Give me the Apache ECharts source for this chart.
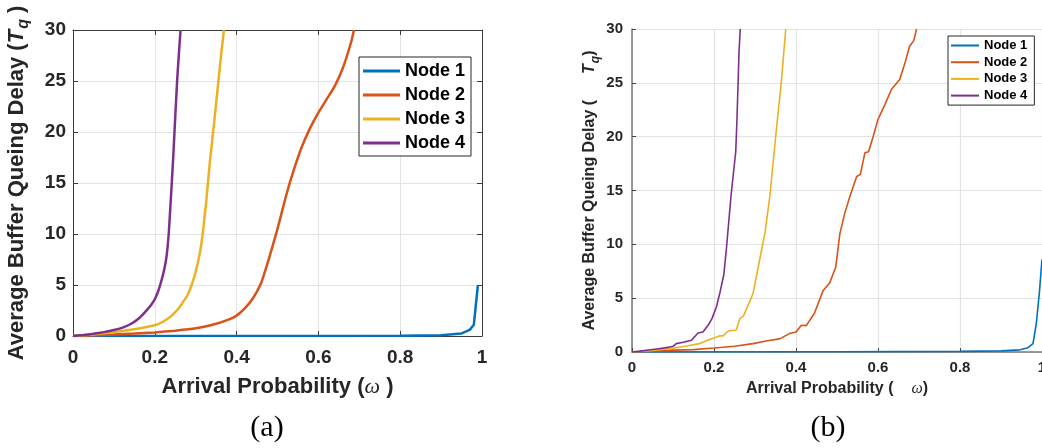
<!DOCTYPE html>
<html>
<head>
<meta charset="utf-8">
<script src="https://cdn.jsdelivr.net/npm/echarts@6/dist/echarts.min.js"></script>
<style>
html,body{margin:0;padding:0;background:#fff;}
#chart{width:1042px;height:448px;}
</style>
</head>
<body>
<div id="chart"></div>
<script>
// ---- data ----
const nodeNames = ['Node 1', 'Node 2', 'Node 3', 'Node 4'];
const xTicks = [0, 0.2, 0.4, 0.6, 0.8, 1];
const yTicks = [0, 5, 10, 15, 20, 25, 30];

// (a) analytical curves: [arrival probability, delay]
const a1 = [[0,0],[0.5,0.01],[0.8,0.03],[0.9,0.08],[0.95,0.25],[0.97,0.6],[0.98,1.1],[0.99,5.0]];
const a2 = [[0,0],[0.05,0.07],[0.1,0.15],[0.15,0.24],[0.2,0.35],[0.25,0.52],[0.3,0.75],[0.35,1.2],[0.38,1.6],[0.4,2.0],[0.42,2.7],[0.44,3.7],[0.46,5.2],[0.48,7.7],[0.5,10.5],[0.52,13.6],[0.54,16.3],[0.56,18.6],[0.58,20.4],[0.6,21.9],[0.62,23.2],[0.64,24.5],[0.66,26.3],[0.68,28.8],[0.687,30]];
const a3 = [[0,0],[0.05,0.15],[0.1,0.38],[0.15,0.66],[0.2,1.05],[0.22,1.4],[0.24,1.95],[0.26,2.8],[0.27,3.4],[0.28,4.0],[0.29,5.0],[0.3,6.3],[0.31,8.1],[0.318,10.3],[0.326,13.3],[0.335,17.2],[0.344,20.5],[0.355,24.8],[0.362,27.5],[0.369,30]];
const a4 = [[0,0],[0.025,0.1],[0.05,0.22],[0.075,0.38],[0.1,0.58],[0.12,0.8],[0.14,1.15],[0.16,1.7],[0.175,2.3],[0.19,3.0],[0.2,3.6],[0.21,4.6],[0.22,6.0],[0.228,7.6],[0.234,10],[0.24,14],[0.245,17.5],[0.25,21.5],[0.255,25.3],[0.26,28.3],[0.263,30]];

// (b) simulated curves
const b1 = [[0,0],[0.5,0.02],[0.8,0.06],[0.9,0.1],[0.946,0.2],[0.966,0.4],[0.978,0.78],[0.986,2.6],[0.994,5.7],[1.0,8.6]];
const b2 = [[0,0],[0.05,0.08],[0.1,0.17],[0.15,0.22],[0.2,0.37],[0.25,0.53],[0.295,0.78],[0.33,1.05],[0.36,1.22],[0.384,1.71],[0.4,1.86],[0.413,2.48],[0.425,2.45],[0.445,3.6],[0.466,5.7],[0.482,6.4],[0.497,7.9],[0.507,11.0],[0.519,12.9],[0.531,14.4],[0.548,16.3],[0.557,16.5],[0.568,18.5],[0.577,18.6],[0.588,20.0],[0.6,21.6],[0.617,23.0],[0.633,24.4],[0.653,25.3],[0.667,27],[0.677,28.4],[0.687,28.9],[0.694,30]];
const b3 = [[0,0],[0.05,0.15],[0.1,0.35],[0.133,0.56],[0.165,0.78],[0.185,1.1],[0.202,1.33],[0.214,1.5],[0.222,1.5],[0.234,1.93],[0.242,2.0],[0.254,2.02],[0.263,3.1],[0.272,3.35],[0.295,5.4],[0.311,8.5],[0.324,11],[0.336,14.4],[0.352,20.6],[0.364,25],[0.375,30]];
const b4 = [[0,0],[0.02,0.08],[0.04,0.18],[0.06,0.28],[0.08,0.38],[0.092,0.47],[0.1,0.52],[0.108,0.78],[0.125,0.9],[0.145,1.09],[0.161,1.77],[0.173,1.85],[0.186,2.5],[0.195,3.1],[0.206,4.2],[0.215,5.6],[0.224,7.2],[0.23,9.5],[0.242,14.7],[0.253,18.6],[0.256,21.6],[0.261,27.8],[0.264,30]];

// ---- style ----
const colors = ['#0072BD', '#D95319', '#EDB120', '#7E2F8E'];
const FONT = '"Liberation Sans", Arial, Helvetica, sans-serif';
const SERIF = '"Liberation Serif", "DejaVu Serif", serif';
const TXT = '#262626';
const GRIDC = '#e3e3e3';

const chart = echarts.init(document.getElementById('chart'), null, {renderer: 'canvas'});

function valAxis(grid, pos, opts) {
  return Object.assign({
    type: 'value', gridIndex: grid, position: pos,
    axisLine: {show: true, onZero: false, lineStyle: {color: '#3a3a3a', width: 1}},
    axisTick: {show: true, inside: true, length: 5, lineStyle: {color: '#3a3a3a'}},
    splitLine: {show: false},
  }, opts);
}

const xMin = xTicks[0], xMax = xTicks[xTicks.length - 1], xInt = xTicks[1] - xTicks[0];
const yMin = yTicks[0], yMax = yTicks[yTicks.length - 1], yInt = yTicks[1] - yTicks[0];

const option = {
  animation: false,
  backgroundColor: '#fff',
  color: colors,
  grid: [
    {left: 73, top: 30, width: 409, height: 306, containLabel: false, outerBoundsMode: 'none'},
    {left: 632, top: 29, width: 410, height: 323, containLabel: false, outerBoundsMode: 'none'}
  ],
  xAxis: [
    valAxis(0, 'bottom', {
      min: xMin, max: xMax, interval: xInt,
      axisLabel: {margin: 12, fontFamily: FONT, fontWeight: 'bold', fontSize: 19, color: TXT},
      splitLine: {show: true, lineStyle: {color: GRIDC, width: 1}},
      name: '{b|Arrival Probability (}{w|ω}{b| )}',
      nameLocation: 'middle', nameGap: 40,
      nameTextStyle: {rich: {
        b: {fontFamily: FONT, fontWeight: 'bold', fontSize: 22, color: TXT},
        w: {fontFamily: SERIF, fontStyle: 'italic', fontSize: 22, color: TXT}
      }}
    }),
    valAxis(0, 'top', {min: xMin, max: xMax, interval: xInt, axisLabel: {show: false}}),
    valAxis(1, 'bottom', {
      min: xMin, max: xMax, interval: xInt,
      axisLine: {show: true, onZero: false, lineStyle: {color: '#777', width: 1.5}},
      axisTick: {show: true, inside: true, length: 4, lineStyle: {color: '#444'}},
      axisLabel: {margin: 8, fontFamily: FONT, fontWeight: 'bold', fontSize: 15, color: TXT},
      splitLine: {show: true, lineStyle: {color: GRIDC, width: 1.2}},
      name: '{b|Arrival Probability (}{g|}{w|ω}{b|)}',
      nameLocation: 'middle', nameGap: 29,
      nameTextStyle: {rich: {
        b: {fontFamily: FONT, fontWeight: 'bold', fontSize: 16, color: TXT},
        g: {width: 18},
        w: {fontFamily: SERIF, fontStyle: 'italic', fontSize: 16, color: TXT}
      }}
    })
  ],
  yAxis: [
    valAxis(0, 'left', {
      min: yMin, max: yMax, interval: yInt,
      axisLabel: {margin: 7, fontFamily: FONT, fontWeight: 'bold', fontSize: 19, color: TXT},
      splitLine: {show: true, lineStyle: {color: GRIDC, width: 1}},
      name: '{b|Average Buffer Queing Delay (}{t|T}{s|q}{b| )}',
      nameLocation: 'middle', nameRotate: 90, nameGap: 41,
      nameTextStyle: {rich: {
        b: {fontFamily: FONT, fontWeight: 'bold', fontSize: 22, color: TXT, verticalAlign: 'top'},
        t: {fontFamily: FONT, fontWeight: 'bold', fontStyle: 'italic', fontSize: 22, color: TXT, verticalAlign: 'top'},
        s: {fontFamily: FONT, fontWeight: 'bold', fontStyle: 'italic', fontSize: 16, color: TXT, verticalAlign: 'top', padding: [10, 0, 0, 1]}
      }}
    }),
    valAxis(0, 'right', {min: yMin, max: yMax, interval: yInt, axisLabel: {show: false}}),
    valAxis(1, 'left', {
      min: yMin, max: yMax, interval: yInt,
      axisLine: {show: true, onZero: false, lineStyle: {color: '#777', width: 1.5}},
      axisTick: {show: true, inside: true, length: 4, lineStyle: {color: '#444'}},
      axisLabel: {margin: 9, fontFamily: FONT, fontWeight: 'bold', fontSize: 15, color: TXT},
      splitLine: {show: true, lineStyle: {color: GRIDC, width: 1.2}},
      name: '{b|Average Buffer Queing Delay (}{g|}{t|T}{s|q}{b|)}',
      nameLocation: 'middle', nameRotate: 90, nameGap: 30,
      nameTextStyle: {rich: {
        b: {fontFamily: FONT, fontWeight: 'bold', fontSize: 16, color: TXT, verticalAlign: 'top'},
        g: {width: 26},
        t: {fontFamily: FONT, fontWeight: 'bold', fontStyle: 'italic', fontSize: 16, color: TXT, verticalAlign: 'top'},
        s: {fontFamily: FONT, fontWeight: 'bold', fontStyle: 'italic', fontSize: 12, color: TXT, verticalAlign: 'top', padding: [8, 0, 0, 1]}
      }}
    })
  ],
  legend: [
    {
      left: 359, top: 57, orient: 'vertical', icon: 'rect',
      itemWidth: 37, itemHeight: 3, itemGap: 6, selectedMode: false,
      padding: [5, 6, 4, 4], borderColor: '#262626', borderWidth: 1, backgroundColor: '#fff',
      textStyle: {fontFamily: FONT, fontWeight: 'bold', fontSize: 18, color: '#000', lineHeight: 18},
      data: nodeNames
    },
    {
      left: 948, top: 36, orient: 'vertical', icon: 'rect',
      itemWidth: 28, itemHeight: 2, itemGap: 3.7, selectedMode: false,
      padding: [3, 7, 3, 3], borderColor: '#262626', borderWidth: 1, backgroundColor: '#fff',
      textStyle: {fontFamily: FONT, fontWeight: 'bold', fontSize: 13, color: '#000', lineHeight: 13},
      data: nodeNames
    }
  ],
  graphic: [
    {type: 'text', x: 267, y: 428, style: {text: '(a)', font: '30px ' + SERIF, fill: '#000', textAlign: 'center', textVerticalAlign: 'middle'}},
    {type: 'text', x: 828, y: 428, style: {text: '(b)', font: '30px ' + SERIF, fill: '#000', textAlign: 'center', textVerticalAlign: 'middle'}}
  ],
  series: []
};

const aSets = [a1, a2, a3, a4];
const bSets = [b1, b2, b3, b4];
aSets.forEach((d, i) => option.series.push({
  name: nodeNames[i], type: 'line', xAxisIndex: 0, yAxisIndex: 0, data: d,
  showSymbol: false, symbol: 'none', smooth: i === 0 ? false : 0.15,
  lineStyle: {color: colors[i], width: 2.5}, itemStyle: {color: colors[i]}, clip: true
}));
bSets.forEach((d, i) => option.series.push({
  name: nodeNames[i], type: 'line', xAxisIndex: 2, yAxisIndex: 2, data: d,
  showSymbol: false, symbol: 'none', smooth: false,
  lineStyle: {color: colors[i], width: 1.6}, itemStyle: {color: colors[i]}, clip: true
}));

chart.setOption(option);
</script>
</body>
</html>
